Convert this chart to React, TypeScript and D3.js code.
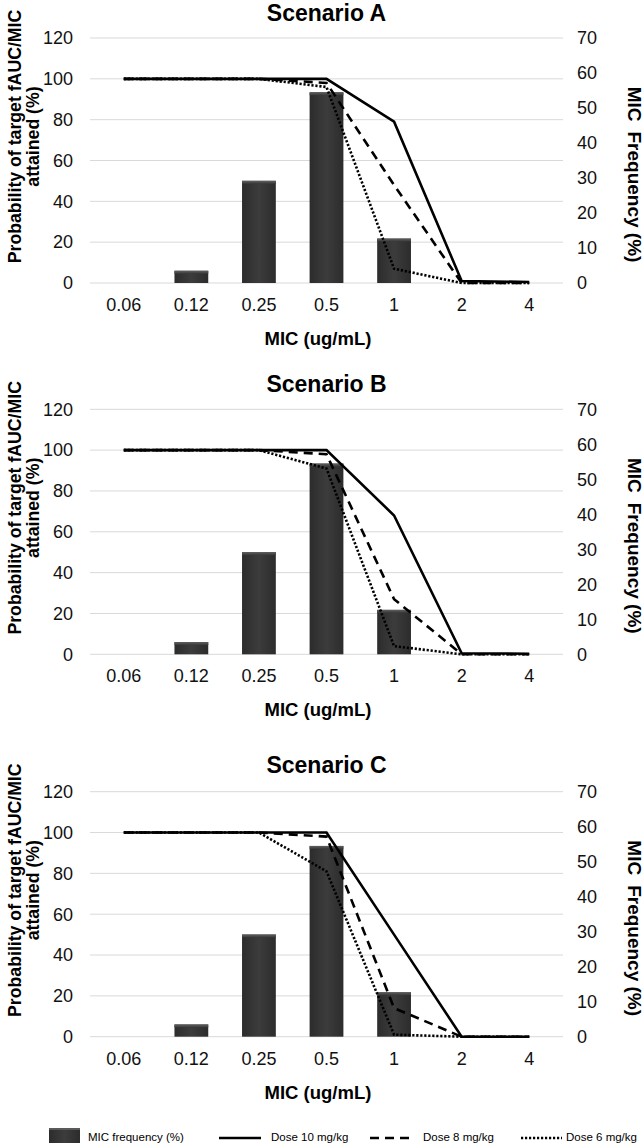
import React from "react";
import * as d3 from "d3";

const categories = ["0.06", "0.12", "0.25", "0.5", "1", "2", "4"];
const micFrequency = [0, 3.5, 29.2, 54.5, 12.7, 0, 0];
const scenarioTitles = ["Scenario A", "Scenario B", "Scenario C"];

const dose10A = [100, 100, 100, 100, 79, 1, 0.5];
const dose8A = [100, 100, 100, 98, 48, 0, 0];
const dose6A = [100, 100, 100, 96, 7, 0, 0];

const dose10B = [100, 100, 100, 100, 68, 0.5, 0.3];
const dose8B = [100, 100, 100, 98, 27, 0, 0];
const dose6B = [100, 100, 100, 91, 4, 0, 0];

const dose10C = [100, 100, 100, 100, 50, 0, 0];
const dose8C = [100, 100, 100, 98, 14, 0, 0];
const dose6C = [100, 100, 100, 81, 1, 0, 0];

const leftTicks = [0, 20, 40, 60, 80, 100, 120];
const rightTicks = [0, 10, 20, 30, 40, 50, 60, 70];

const legendLabels = ["MIC frequency (%)", "Dose 10 mg/kg", "Dose 8 mg/kg", "Dose 6 mg/kg"];

const W = 644;
const H = 1148;
const FONT = "'Liberation Sans', Arial, Helvetica, sans-serif";
const plotLeft = 90;
const plotRight = 563;
const panelTops = [38, 409.3, 791.7];
const titleOffsets = [17, 17, 18.5];
const plotH = 245;

const dashStyles = ["none", "9,6", "2.2,1.8"];

const panelData = [
  [dose10A, dose8A, dose6A],
  [dose10B, dose8B, dose6B],
  [dose10C, dose8C, dose6C],
];

function Panel({ idx }: { idx: number }) {
  const top = panelTops[idx];
  const bottom = top + plotH;
  const x = d3
    .scaleBand<string>()
    .domain(categories)
    .range([plotLeft, plotRight])
    .paddingInner(0.5)
    .paddingOuter(0.25);
  const yL = d3.scaleLinear().domain([0, 120]).range([bottom, top]);
  const yR = d3.scaleLinear().domain([0, 70]).range([bottom, top]);
  const cx = (c: string) => (x(c) as number) + x.bandwidth() / 2;
  const line = d3
    .line<number>()
    .x((_, i) => cx(categories[i]))
    .y((d) => yL(d));
  const mid = (top + bottom) / 2;
  const series = panelData[idx];
  return (
    <g>
      <text
        x={(plotLeft + plotRight) / 2}
        y={top - titleOffsets[idx]}
        textAnchor="middle"
        fontFamily={FONT}
        fontWeight="bold"
        fontSize={23}
        fill="#000"
      >
        {scenarioTitles[idx]}
      </text>
      {leftTicks.map((t) => (
        <line
          key={"g" + t}
          x1={plotLeft}
          x2={plotRight}
          y1={yL(t)}
          y2={yL(t)}
          stroke="#d9d9d9"
          strokeWidth={1}
        />
      ))}
      {leftTicks.map((t) => (
        <text
          key={"l" + t}
          x={73}
          y={yL(t)}
          dy="0.35em"
          textAnchor="end"
          fontFamily={FONT}
          fontSize={18}
          fill="#111"
        >
          {t}
        </text>
      ))}
      {rightTicks.map((t) => (
        <text
          key={"r" + t}
          x={577}
          y={yR(t)}
          dy="0.35em"
          textAnchor="start"
          fontFamily={FONT}
          fontSize={18}
          fill="#111"
        >
          {t}
        </text>
      ))}
      {categories.map((c, i) =>
        micFrequency[i] > 0 ? (
          <g key={"b" + c}>
            <rect
              x={x(c)}
              y={yR(micFrequency[i])}
              width={x.bandwidth()}
              height={bottom - yR(micFrequency[i])}
              fill="url(#barGrad)"
            />
            <rect
              x={x(c)}
              y={yR(micFrequency[i])}
              width={x.bandwidth()}
              height={Math.min(3, bottom - yR(micFrequency[i]))}
              fill="url(#barTop)"
            />
          </g>
        ) : null
      )}
      {series.map((s, si) => (
        <path
          key={"s" + si}
          d={line(s) as string}
          fill="none"
          stroke="#000"
          strokeWidth={2.6}
          strokeDasharray={dashStyles[si]}
          strokeLinejoin="miter"
        />
      ))}
      {categories.map((c) => (
        <text
          key={"x" + c}
          x={cx(c)}
          y={bottom + 28}
          textAnchor="middle"
          fontFamily={FONT}
          fontSize={18}
          fill="#111"
        >
          {c}
        </text>
      ))}
      <text
        x={318}
        y={bottom + 62}
        textAnchor="middle"
        fontFamily={FONT}
        fontWeight="bold"
        fontSize={18.5}
        fill="#000"
      >
        MIC (ug/mL)
      </text>
      <text
        transform={`translate(21,${mid - 24}) rotate(-90)`}
        textAnchor="middle"
        fontFamily={FONT}
        fontWeight="bold"
        fontSize={17.7}
        fill="#000"
      >
        Probability of target fAUC/MIC
      </text>
      <text
        transform={`translate(38.5,${mid - 24}) rotate(-90)`}
        textAnchor="middle"
        fontFamily={FONT}
        fontWeight="bold"
        fontSize={17.7}
        fill="#000"
      >
        attained (%)
      </text>
      <text
        transform={`translate(628,${mid + 14}) rotate(90)`}
        textAnchor="middle"
        fontFamily={FONT}
        fontWeight="bold"
        fontSize={19}
        fill="#000"
      >
        <tspan>MIC</tspan>
        <tspan dx={10}>Frequency (%)</tspan>
      </text>
    </g>
  );
}

function Legend() {
  const y = 1138;
  const items = [
    { x1: 219, x2: 261, tx: 271, dash: dashStyles[0], label: legendLabels[1] },
    { x1: 370, x2: 413, tx: 423, dash: dashStyles[1], label: legendLabels[2] },
    { x1: 521, x2: 562, tx: 566, dash: dashStyles[2], label: legendLabels[3] },
  ];
  return (
    <g>
      <rect x={49} y={1128} width={31} height={15} fill="url(#barGrad)" />
      <rect x={49} y={1128} width={31} height={2} fill="#5a5a5a" />
      <text x={88} y={1141} fontFamily={FONT} fontSize={11.5} fill="#000">
        {legendLabels[0]}
      </text>
      {items.map((it) => (
        <g key={it.label}>
          <line
            x1={it.x1}
            x2={it.x2}
            y1={y}
            y2={y}
            stroke="#000"
            strokeWidth={2.6}
            strokeDasharray={it.dash}
          />
          <text x={it.tx} y={1141} fontFamily={FONT} fontSize={11.5} fill="#000">
            {it.label}
          </text>
        </g>
      ))}
    </g>
  );
}

export default function App() {
  return (
    <svg
      width={W}
      height={H}
      viewBox={`0 0 ${W} ${H}`}
      style={{ position: "absolute", left: 0, top: 0, background: "#fff" }}
    >
      <defs>
        <linearGradient id="barGrad" x1="0" x2="1" y1="0" y2="0">
          <stop offset="0" stopColor="#2c2c2c" />
          <stop offset="0.5" stopColor="#3c3c3c" />
          <stop offset="1" stopColor="#2c2c2c" />
        </linearGradient>
        <linearGradient id="barTop" x1="0" x2="0" y1="0" y2="1">
          <stop offset="0" stopColor="#606060" />
          <stop offset="1" stopColor="#383838" />
        </linearGradient>
      </defs>
      <rect x={0} y={0} width={W} height={H} fill="#fff" />
      {scenarioTitles.map((_, i) => (
        <Panel key={i} idx={i} />
      ))}
      <Legend />
    </svg>
  );
}
